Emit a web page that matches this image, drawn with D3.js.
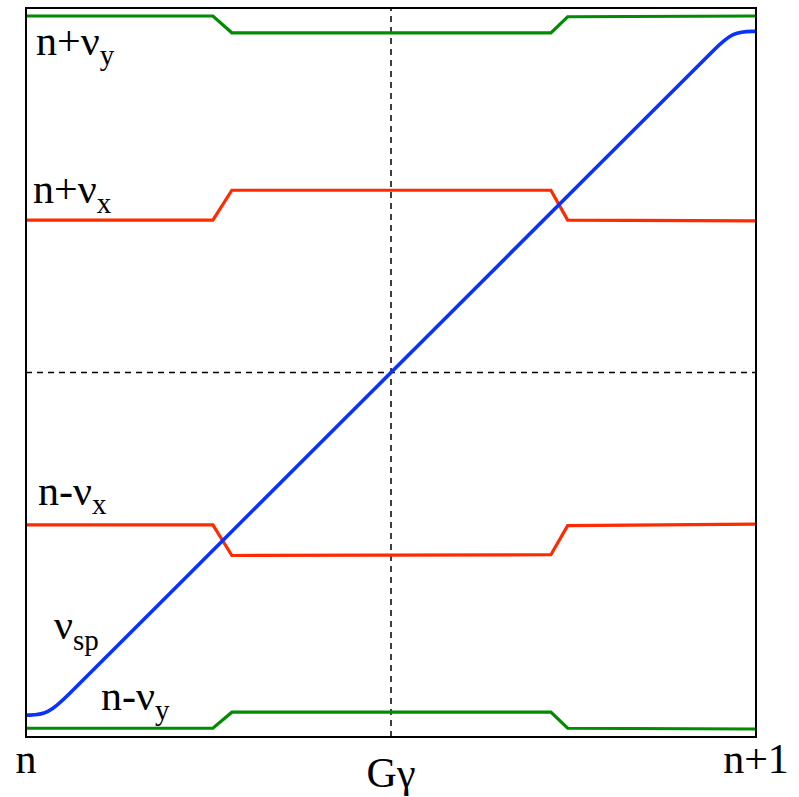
<!DOCTYPE html>
<html>
<head>
<meta charset="utf-8">
<script src="https://cdn.jsdelivr.net/npm/d3@7"></script>
<style>
  html, body { margin: 0; padding: 0; background: #fff; }
  svg { display: block; }
  text { font-family: "Liberation Serif", "DejaVu Serif", serif; fill: #000; }
</style>
</head>
<body>
<svg id="chart" width="799" height="797"></svg>
<script>
// Horizontal position across one integer interval (0 = n, 1 = n+1)
const stepX = [0, 0.256, 0.282, 0.719, 0.742, 1];

// Betatron sideband lines (fraction of the interval)
const nPlusNuY  = [0.989, 0.989, 0.966, 0.966, 0.988, 0.989];
const nPlusNuX  = [0.709, 0.709, 0.750, 0.750, 0.709, 0.708];
const nMinusNuX = [0.291, 0.291, 0.249, 0.250, 0.290, 0.292];
const nMinusNuY = [0.012, 0.012, 0.034, 0.034, 0.012, 0.011];

// Spin tune, flattening near both integers
const spinX = [0, 0.03, 0.06, 0.09, 0.91, 0.94, 0.968, 1];
const spinY = [0.030, 0.030, 0.06, 0.09, 0.91, 0.94, 0.968, 0.968];

// Axis tick labels
const tickPos = [0, 0.5, 1];
const tickLabels = ["n", "Gγ", "n+1"];

const svg = d3.select("#chart");
const x = d3.scaleLinear().domain([0, 1]).range([26, 756]);
const y = d3.scaleLinear().domain([0, 1]).range([737, 8]);

const line = d3.line().x(d => x(d[0])).y(d => y(d[1]));
const spinLine = d3.line().x(d => x(d[0])).y(d => y(d[1])).curve(d3.curveBasis);

// Dashed guides through the centre
svg.append("line")
  .attr("x1", x(0.5)).attr("x2", x(0.5))
  .attr("y1", y(0)).attr("y2", y(1))
  .attr("stroke", "#000").attr("stroke-width", 1.5)
  .attr("stroke-dasharray", "6,5");
svg.append("line")
  .attr("x1", x(0)).attr("x2", x(1))
  .attr("y1", y(0.5)).attr("y2", y(0.5))
  .attr("stroke", "#000").attr("stroke-width", 1.5)
  .attr("stroke-dasharray", "6,5");

const series = [
  { ys: nPlusNuY,  color: "#008c00" },
  { ys: nPlusNuX,  color: "#ff2a00" },
  { ys: nMinusNuX, color: "#ff2a00" },
  { ys: nMinusNuY, color: "#008c00" }
];
series.forEach(s => {
  svg.append("path")
    .attr("d", line(stepX.map((v, i) => [v, s.ys[i]])))
    .attr("fill", "none")
    .attr("stroke", s.color)
    .attr("stroke-width", 3.2)
    .attr("stroke-linejoin", "miter");
});

svg.append("path")
  .attr("d", spinLine(spinX.map((v, i) => [v, spinY[i]])))
  .attr("fill", "none")
  .attr("stroke", "#0a32ff")
  .attr("stroke-width", 3.6);

// Frame
svg.append("rect")
  .attr("x", x(0)).attr("y", y(1))
  .attr("width", x(1) - x(0)).attr("height", y(0) - y(1))
  .attr("fill", "none").attr("stroke", "#000").attr("stroke-width", 2);

// Tick labels under the frame
const tickBase = [773, 787, 773];
svg.selectAll("text.tick")
  .data(tickPos)
  .join("text")
  .attr("class", "tick")
  .attr("x", d => x(d))
  .attr("y", (d, i) => tickBase[i])
  .attr("text-anchor", "middle")
  .attr("font-size", 42)
  .text((d, i) => tickLabels[i]);

// Curve labels with subscripts
function label(px, py, main, sub, size, subSize, dy) {
  const t = svg.append("text").attr("x", px).attr("y", py).attr("font-size", size);
  t.append("tspan").text(main);
  t.append("tspan").attr("font-size", subSize).attr("dy", dy).text(sub);
}
label(36, 55, "n+ν", "y", 42, 29, 10);
label(33, 203, "n+ν", "x", 42, 29, 10);
label(38, 505, "n-ν", "x", 42, 29, 9);
label(54, 639, "ν", "sp", 42, 29, 11);
label(101, 710, "n-ν", "y", 42, 29, 10);
</script>
</body>
</html>
